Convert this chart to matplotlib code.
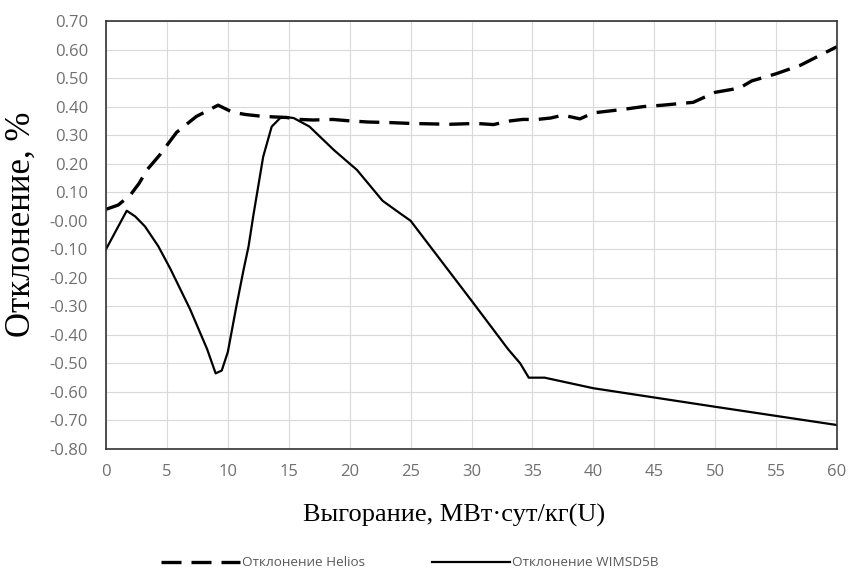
import numpy as np
import matplotlib
matplotlib.use("Agg")
import matplotlib.pyplot as plt

# burnup, MW*day/kg(U)
helios_x = [0, 1, 2, 2.7, 3.4, 4.4, 5.8, 7.4, 8.3, 9.2, 10.4, 11.5, 12.6, 13.7,
            14.8, 15.9, 17.0, 18.6, 20.0, 21.5, 23.3, 25.0, 28.2, 30.4, 31.8,
            33.2, 34.2, 35.4, 36.5, 37.5, 38.9, 40.0, 42.4, 44.1, 45.7, 48.2,
            50.0, 52.0, 53.0, 55.0, 57.0, 60.0]
helios_y = [0.04, 0.055, 0.09, 0.13, 0.18, 0.23, 0.31, 0.365, 0.385, 0.405,
            0.38, 0.372, 0.367, 0.364, 0.362, 0.355, 0.353, 0.355, 0.35, 0.346,
            0.344, 0.341, 0.338, 0.341, 0.337, 0.35, 0.355, 0.355, 0.36, 0.37,
            0.357, 0.378, 0.39, 0.40, 0.405, 0.415, 0.45, 0.465, 0.49, 0.515,
            0.545, 0.61]

wims_x = [0, 1.7, 2.4, 3.2, 4.3, 5.3, 6.9, 8.3, 9.0, 9.5, 10.0, 10.7, 11.3,
          11.7, 12.1, 12.9, 13.6, 14.3, 15.0, 15.4, 16.7, 18.7, 20.0, 20.6,
          22.7, 24.1, 25.0, 27.5, 30.0, 33.0, 34.0, 34.7, 36.0, 40.0, 50.0,
          60.0]
wims_y = [-0.10, 0.035, 0.015, -0.02, -0.09, -0.17, -0.31, -0.45, -0.535,
          -0.525, -0.46, -0.30, -0.17, -0.09, 0.02, 0.224, 0.33, 0.36, 0.362,
          0.36, 0.33, 0.248, 0.20, 0.178, 0.07, 0.027, 0.0, -0.14, -0.28,
          -0.45, -0.50, -0.55, -0.55, -0.587, -0.652, -0.716]

x_ticks = np.arange(0, 61, 5)
y_ticks = np.arange(-0.8, 0.71, 0.1)

fig = plt.figure(figsize=(8.5, 5.75), dpi=100)
ax = fig.add_axes([106/850, 1-449/575, (837-106)/850, (449-21)/575])

ax.plot(helios_x, helios_y, color="black", lw=2.4, linestyle=(0, (6, 3)),
        dash_joinstyle="round", label="Отклонение Helios")
ax.plot(wims_x, wims_y, color="black", lw=1.6, solid_joinstyle="round",
        label="Отклонение WIMSD5B")

ax.set_xlim(0, 60)
ax.set_ylim(-0.8, 0.7)
ax.set_xticks(x_ticks)
ax.set_yticks(y_ticks)
ax.set_yticklabels(["%.2f" % v for v in y_ticks])
ax.grid(True, color="#d9d9d9", lw=0.8)
ax.set_axisbelow(True)
for s in ax.spines.values():
    s.set_color("#333333")
    s.set_linewidth(1.2)
ax.tick_params(length=0, labelsize=12, labelcolor="#707070")
ax.tick_params(axis="y", pad=13)
ax.tick_params(axis="x", pad=11)
for lab in ax.get_xticklabels() + ax.get_yticklabels():
    lab.set_fontfamily("Open Sans")

fig.text(454/850, 1-515/575, "Выгорание, МВт·сут/кг(U)", family="Liberation Serif",
         fontsize=19, ha="center", va="center")
fig.text(21/850, 1-224/575, "Отклонение, %", family="Liberation Serif",
         fontsize=25, ha="center", va="center", rotation=90)

fig.legend(loc="center", bbox_to_anchor=(410/850, 1-563/575), ncol=2,
           frameon=False, handlelength=5.8, handletextpad=0.15, columnspacing=5,
           prop={"family": "Open Sans", "size": 9.7}, labelcolor="#595959")

plt.savefig("out.png", dpi=100)
